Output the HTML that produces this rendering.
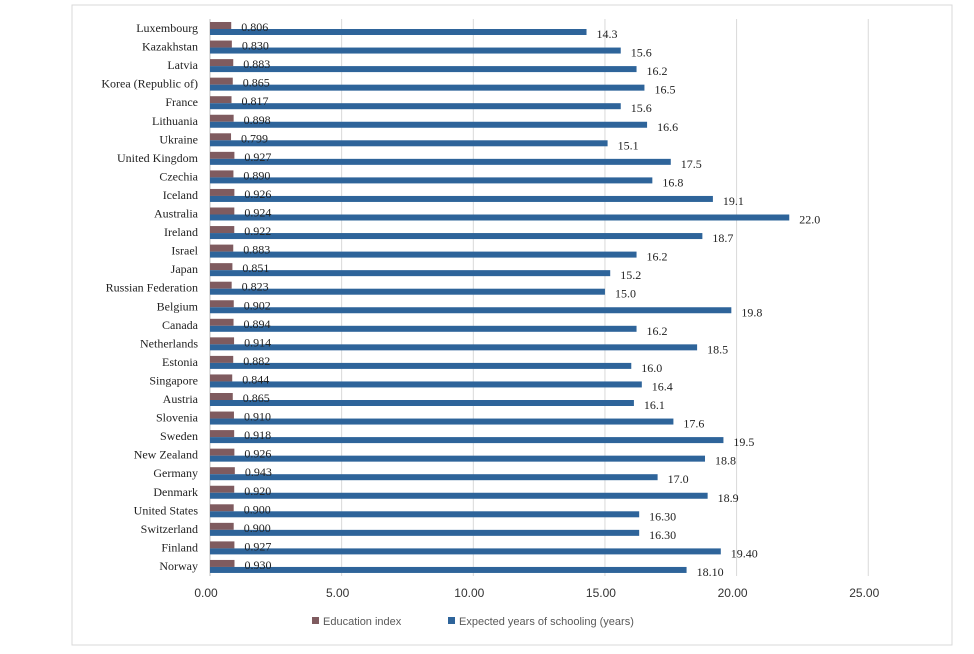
<!DOCTYPE html>
<html><head><meta charset="utf-8"><style>
body{margin:0;background:#fff}
svg text{font-family:"Liberation Serif",serif}
</style></head><body>
<svg id="chart" width="974" height="649" viewBox="0 0 974 649">
<rect x="72" y="5" width="880" height="640" fill="#fff" stroke="#d9d9d9"/>
<g id="grid"></g><g id="bars"></g><g id="labels"></g>
<g>
<rect x="312" y="617" width="7" height="7" fill="#7f5b5f"/>
<text x="323" y="625" font-size="11" fill="#595959" style="font-family:'Liberation Sans',sans-serif">Education index</text>
<rect x="448" y="617" width="7" height="7" fill="#2e649a"/>
<text x="459" y="625" font-size="11" fill="#595959" style="font-family:'Liberation Sans',sans-serif">Expected years of schooling (years)</text>
</g>
</svg>
<script>
const countries=["Luxembourg","Kazakhstan","Latvia","Korea (Republic of)","France","Lithuania","Ukraine","United Kingdom","Czechia","Iceland","Australia","Ireland","Israel","Japan","Russian Federation","Belgium","Canada","Netherlands","Estonia","Singapore","Austria","Slovenia","Sweden","New Zealand","Germany","Denmark","United States","Switzerland","Finland","Norway"];
const eduIndex=[0.806,0.830,0.883,0.865,0.817,0.898,0.799,0.927,0.890,0.926,0.924,0.922,0.883,0.851,0.823,0.902,0.894,0.914,0.882,0.844,0.865,0.910,0.918,0.926,0.943,0.920,0.900,0.900,0.927,0.930];
const years=[14.3,15.6,16.2,16.5,15.6,16.6,15.1,17.5,16.8,19.1,22.0,18.7,16.2,15.2,15.0,19.8,16.2,18.5,16.0,16.4,16.1,17.6,19.5,18.8,17.0,18.9,16.30,16.30,19.40,18.10];
const yearLabels=["14.3","15.6","16.2","16.5","15.6","16.6","15.1","17.5","16.8","19.1","22.0","18.7","16.2","15.2","15.0","19.8","16.2","18.5","16.0","16.4","16.1","17.6","19.5","18.8","17.0","18.9","16.30","16.30","19.40","18.10"];
const ticks=[0,5,10,15,20,25];
const NS="http://www.w3.org/2000/svg";
const x=v=>210+v*26.33;
const yc=i=>28+i*18.55;
function mk(t,a,p){const e=document.createElementNS(NS,t);for(const k in a)e.setAttribute(k,a[k]);p.appendChild(e);return e;}
const grid=document.getElementById('grid'),bars=document.getElementById('bars'),labels=document.getElementById('labels');
ticks.forEach(t=>{
 const l=mk('line',{x1:x(t),x2:x(t),y1:19,y2:576,stroke:t===0?'#bfbfbf':'#d9d9d9','stroke-width':1},grid);
 
 
 const tx=mk('text',{x:x(t)-4,y:597,'font-size':12,'text-anchor':'middle',fill:'#333',style:"font-family:'Liberation Sans',sans-serif"},grid);
 tx.textContent=t.toFixed(2);
 
 
});
countries.forEach((c,i)=>{
 const cy=yc(i);
 const cl=mk('text',{x:198,y:cy+4,'font-size':12,'text-anchor':'end',fill:'#222'},labels);
 cl.textContent=c;
 
 
 const b1=mk('rect',{x:x(0),y:cy-6,width:x(eduIndex[i])-x(0),height:7,fill:'#7f5b5f'},bars);
 
 
 const b2=mk('rect',{x:x(0),y:cy+1,width:x(years[i])-x(0),height:6,fill:'#2e649a'},bars);
 
 
 const t1=mk('text',{x:x(eduIndex[i])+10,y:cy+3,'font-size':12,fill:'#222'},labels);
 t1.textContent=eduIndex[i].toFixed(3);
 
 
 const t2=mk('text',{x:x(years[i])+10,y:cy+10,'font-size':12,fill:'#222'},labels);
 t2.textContent=yearLabels[i];
 
 
});
</script>
</body></html>
